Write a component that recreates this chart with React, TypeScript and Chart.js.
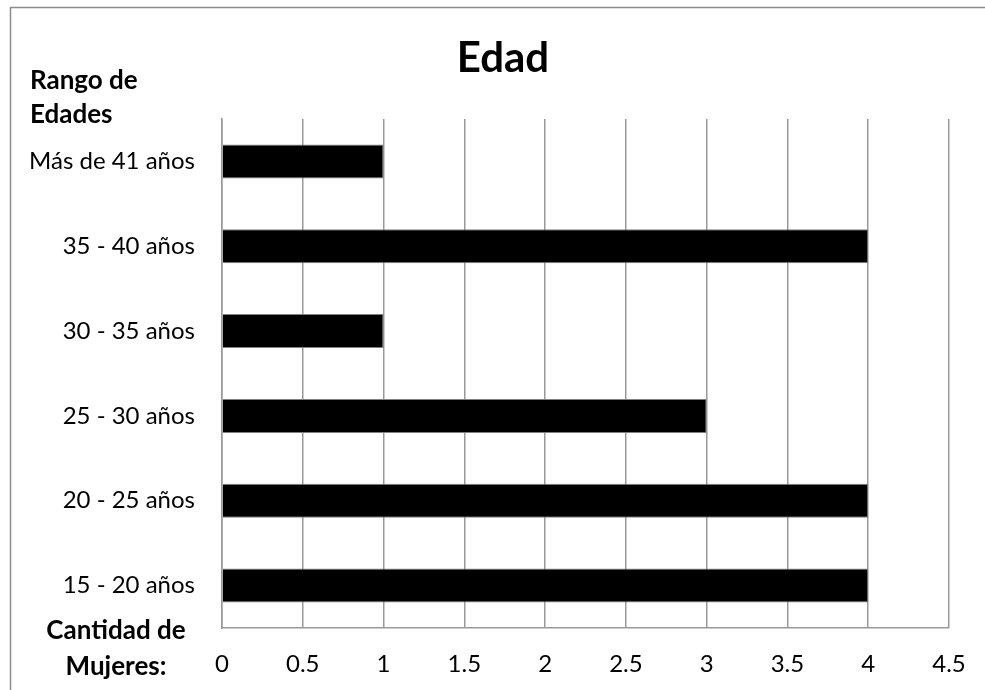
import React, { useEffect, useRef } from "react";
import { Chart, registerables } from "chart.js";

Chart.register(...registerables);

const categories = [
  "Más de 41 años",
  "35 - 40 años",
  "30 - 35 años",
  "25 - 30 años",
  "20 - 25 años",
  "15 - 20 años",
];
const mujeres = [1, 4, 1, 3, 4, 4];
const chartTitle = "Edad";
const yTitleLines = ["Rango de", "Edades"];
const xTitleLines = ["Cantidad de", "Mujeres:"];

const FONT = "Lato, 'Open Sans', sans-serif";

const textPlugin = {
  id: "textPlugin",
  beforeDraw(chart: any) {
    const ctx = chart.ctx;
    ctx.save();
    ctx.strokeStyle = "#8c8c8c";
    ctx.lineWidth = 1.5;
    ctx.beginPath();
    ctx.moveTo(10.5, 1000);
    ctx.lineTo(10.5, 7.5);
    ctx.lineTo(1000, 7.5);
    ctx.stroke();
    ctx.restore();
  },
  afterDraw(chart: any) {
    const ctx = chart.ctx;
    ctx.save();
    ctx.fillStyle = "#000";
    ctx.textBaseline = "alphabetic";
    ctx.font = `bold 42px ${FONT}`;
    ctx.textAlign = "center";
    ctx.fillText(chartTitle, 503, 72);
    ctx.font = `bold 26px ${FONT}`;
    ctx.textAlign = "left";
    ctx.fillText(yTitleLines[0], 30, 89);
    ctx.fillText(yTitleLines[1], 30, 123);
    ctx.textAlign = "center";
    ctx.fillText(xTitleLines[0], 116, 639);
    ctx.fillText(xTitleLines[1], 116, 675);
    ctx.restore();
  },
};

export default function App() {
  const ref = useRef<HTMLCanvasElement | null>(null);
  useEffect(() => {
    let chart: Chart | null = null;
    let cancelled = false;
    const make = () => {
      if (cancelled || !ref.current) return;
      chart = new Chart(ref.current, {
        type: "bar",
        data: {
          labels: categories,
          datasets: [
            {
              label: "Cantidad de Mujeres",
              data: mujeres,
              backgroundColor: "#000000",
              borderColor: "#808080",
              borderWidth: 1,
              categoryPercentage: 1,
              barPercentage: 0.4,
            },
          ],
        },
        options: {
          indexAxis: "y",
          animation: false,
          responsive: false,
          maintainAspectRatio: false,
          devicePixelRatio: 1,
          layout: { padding: { top: 119, right: 36, left: 0, bottom: 0 } },
          plugins: {
            legend: { display: false },
            title: { display: false },
            tooltip: { enabled: false },
          },
          scales: {
            x: {
              min: 0,
              max: 4.5,
              afterFit: (s: any) => {
                s.height = 62;
                s.paddingLeft = 0;
                s.paddingRight = 0;
              },
              ticks: {
                stepSize: 0.5,
                color: "#000",
                font: { family: FONT, size: 24 },
                padding: 22,
                callback: (v: any) => String(Number(v)),
              },
              grid: {
                color: "#999999",
                lineWidth: 1.5,
                drawTicks: false,
              },
              border: { display: true, color: "#999999", width: 1.5 },
            },
            y: {
              afterFit: (s: any) => {
                s.width = 222;
                s.paddingTop = 0;
                s.paddingBottom = 0;
              },
              ticks: {
                color: "#000",
                font: { family: FONT, size: 24 },
                padding: 27,
              },
              grid: { display: false, drawTicks: false },
              border: { display: true, color: "#999999", width: 1.5 },
            },
          },
        },
        plugins: [textPlugin],
      });
    };
    const fonts: any = (document as any).fonts;
    if (fonts && fonts.load) {
      Promise.all([
        fonts.load(`24px Lato`),
        fonts.load(`bold 24px Lato`),
      ])
        .catch(() => {})
        .then(make);
    } else make();
    return () => {
      cancelled = true;
      if (chart) chart.destroy();
    };
  }, []);
  return (
    <div style={{ position: "absolute", left: 0, top: 0, width: 985, height: 690, background: "#fff" }}>
      <canvas ref={ref} width={985} height={690} style={{ width: 985, height: 690, display: "block" }} />
    </div>
  );
}
